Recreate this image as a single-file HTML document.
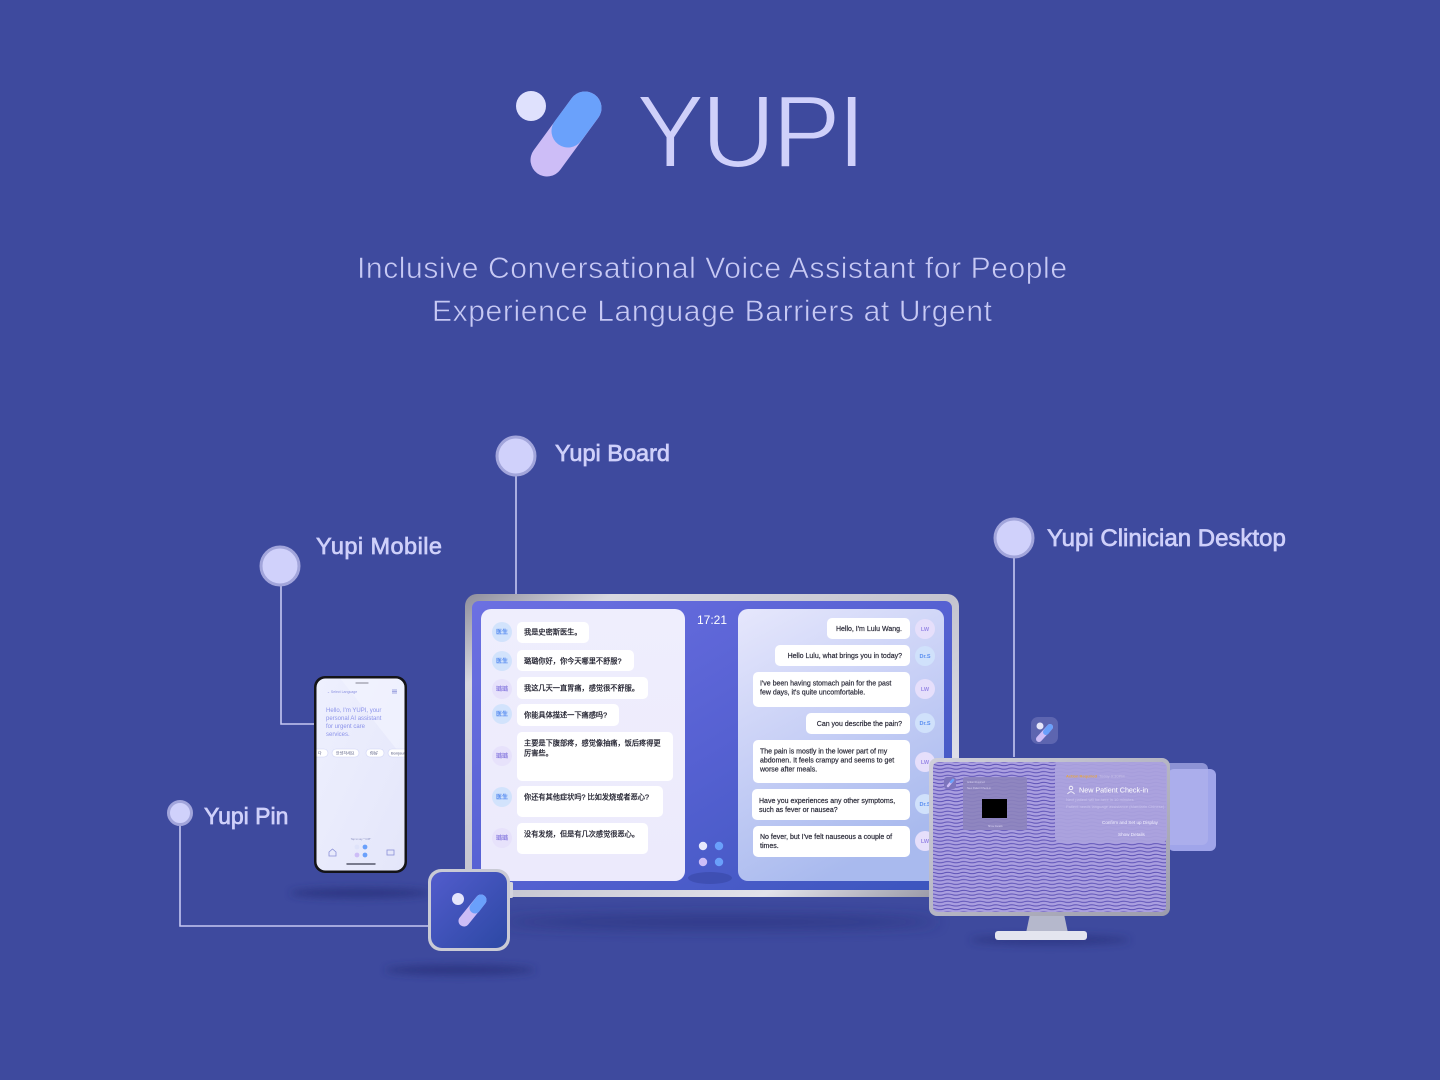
<!DOCTYPE html>
<html>
<head>
<meta charset="utf-8">
<style>
html,body{margin:0;padding:0;background:#3e4a9e;}
body{width:1440px;height:1080px;overflow:hidden;}
svg{display:block;}
</style>
</head>
<body>
<svg width="1440" height="1080" viewBox="0 0 1440 1080" xmlns="http://www.w3.org/2000/svg" font-family="'Liberation Sans','Noto Sans CJK SC',sans-serif">
<defs>
  <linearGradient id="silver" x1="0" y1="0" x2="1" y2="1">
    <stop offset="0" stop-color="#8e8e9c"/>
    <stop offset="0.15" stop-color="#d8d8e0"/>
    <stop offset="0.5" stop-color="#c4c4cf"/>
    <stop offset="0.8" stop-color="#e2e2ea"/>
    <stop offset="1" stop-color="#8f8f9d"/>
  </linearGradient>
  <linearGradient id="screen" x1="0" y1="0" x2="1" y2="1">
    <stop offset="0" stop-color="#6c70e2"/>
    <stop offset="0.5" stop-color="#5661d2"/>
    <stop offset="1" stop-color="#3b55bd"/>
  </linearGradient>
  <linearGradient id="rpanel" x1="0" y1="0" x2="0.4" y2="1">
    <stop offset="0" stop-color="#e6e7fc"/>
    <stop offset="0.5" stop-color="#c8d0f6"/>
    <stop offset="1" stop-color="#a9baee"/>
  </linearGradient>
  <linearGradient id="lpanel" x1="0" y1="0" x2="0" y2="1">
    <stop offset="0" stop-color="#efeefd"/>
    <stop offset="1" stop-color="#eceafc"/>
  </linearGradient>
  <linearGradient id="phscreen" x1="0" y1="0" x2="1" y2="1">
    <stop offset="0" stop-color="#eef0fe"/>
    <stop offset="1" stop-color="#e4e6fa"/>
  </linearGradient>
  <linearGradient id="pinbg" x1="0" y1="0" x2="1" y2="1">
    <stop offset="0" stop-color="#525ccc"/>
    <stop offset="1" stop-color="#2c48a4"/>
  </linearGradient>
  <linearGradient id="msilver" x1="0" y1="0" x2="1" y2="1">
    <stop offset="0" stop-color="#d0d0da"/>
    <stop offset="0.5" stop-color="#b6b6c4"/>
    <stop offset="1" stop-color="#9c9cac"/>
  </linearGradient>
  <pattern id="wv" width="16" height="3.6" patternUnits="userSpaceOnUse">
    <rect width="16" height="3.6" fill="#aa9fe0"/>
    <path d="M0 1.8 Q4 0.5 8 1.8 T16 1.8" fill="none" stroke="#5e52b6" stroke-width="1"/>
  </pattern>
  <filter id="blur8" x="-50%" y="-200%" width="200%" height="500%"><feGaussianBlur stdDeviation="7"/></filter>
  <filter id="blur4" x="-50%" y="-200%" width="200%" height="500%"><feGaussianBlur stdDeviation="4"/></filter>
  <clipPath id="phclip"><rect x="316.5" y="678.5" width="88" height="192" rx="9"/></clipPath>
</defs>

<rect width="1440" height="1080" fill="#3e4a9e"/>

<!-- LOGO -->
<circle cx="531" cy="106" r="15" fill="#dfe1fd"/>
<line x1="547" y1="160" x2="585" y2="108" stroke="#cdbdf7" stroke-width="33" stroke-linecap="round"/>
<line x1="585" y1="108" x2="568" y2="131" stroke="#6aa1fb" stroke-width="33" stroke-linecap="round"/>
<text x="636" y="167" font-size="103" fill="#cfd0fa" stroke="#3e4a9e" stroke-width="2" textLength="230" lengthAdjust="spacing">YUPI</text>

<!-- Subtitle -->
<text x="712" y="278" font-size="30" fill="#c7c9f4" text-anchor="middle" stroke="#3e4a9e" stroke-width="0.6" textLength="710" lengthAdjust="spacing">Inclusive Conversational Voice Assistant for People</text>
<text x="712" y="321" font-size="30" fill="#c7c9f4" text-anchor="middle" stroke="#3e4a9e" stroke-width="0.6" textLength="560" lengthAdjust="spacing">Experience Language Barriers at Urgent</text>

<!-- Connectors -->
<g stroke="#c5c8f2" stroke-width="1.6" fill="none">
  <path d="M516 476 V594"/>
  <path d="M281 586 V724 H316"/>
  <path d="M1014 558 V757"/>
  <path d="M180 825 V926 H430"/>
</g>
<g fill="#d0d1fb" stroke="#a2a5db" stroke-width="3">
  <circle cx="516" cy="456" r="19"/>
  <circle cx="280" cy="566" r="19"/>
  <circle cx="1014" cy="538" r="19"/>
  <circle cx="180" cy="813" r="11.5"/>
</g>
<g fill="#cfd0fa" stroke="#cfd0fa" stroke-width="0.7" font-size="23.5">
  <text x="555" y="461">Yupi Board</text>
  <text x="316" y="554" textLength="126" lengthAdjust="spacing">Yupi Mobile</text>
  <text x="1047" y="546" font-size="24">Yupi Clinician Desktop</text>
  <text x="204" y="824" font-size="23">Yupi Pin</text>
</g>

<!-- Shadows -->
<ellipse cx="720" cy="922" rx="220" ry="6" fill="#272f78" opacity="0.7" filter="url(#blur8)"/>
<ellipse cx="360" cy="893" rx="70" ry="5" fill="#272f78" opacity="0.7" filter="url(#blur4)"/>
<ellipse cx="460" cy="970" rx="75" ry="5" fill="#272f78" opacity="0.7" filter="url(#blur4)"/>
<ellipse cx="1050" cy="940" rx="80" ry="5" fill="#272f78" opacity="0.6" filter="url(#blur4)"/>

<!-- BOARD -->
<rect x="465" y="594" width="494" height="303" rx="12" fill="url(#silver)"/>
<rect x="472" y="601" width="480" height="289" rx="7" fill="url(#screen)"/>
<rect x="481" y="609" width="204" height="272" rx="10" fill="url(#lpanel)"/>
<rect x="738" y="609" width="206" height="272" rx="10" fill="url(#rpanel)"/>
<text x="697" y="624" font-size="12" fill="#ffffff">17:21</text>
<ellipse cx="710" cy="878" rx="22" ry="6" fill="#3c4cae" opacity="0.8"/>
<circle cx="703" cy="846" r="4.2" fill="#e6e8fc"/>
<circle cx="719" cy="846" r="4.2" fill="#6aa0fb"/>
<circle cx="703" cy="862" r="4.2" fill="#cdbdf7"/>
<circle cx="719" cy="862" r="4.2" fill="#6aa0fb"/>

<!-- left bubbles -->
<g fill="#ffffff">
  <rect x="517" y="622" width="72" height="21" rx="5"/>
  <rect x="517" y="650" width="117" height="21" rx="5"/>
  <rect x="517" y="677" width="131" height="22" rx="5"/>
  <rect x="517" y="704" width="102" height="22" rx="5"/>
  <rect x="517" y="732" width="156" height="49" rx="5"/>
  <rect x="517" y="786" width="146" height="31" rx="5"/>
  <rect x="517" y="823" width="131" height="31" rx="5"/>
</g>
<g font-size="6" font-weight="bold">
  <circle cx="502" cy="632" r="10" fill="#d2e3fc"/><text x="502" y="634" text-anchor="middle" fill="#5a8ef0">医生</text>
  <circle cx="502" cy="661" r="10" fill="#d2e3fc"/><text x="502" y="663" text-anchor="middle" fill="#5a8ef0">医生</text>
  <circle cx="502" cy="689" r="10" fill="#e7e2fb"/><text x="502" y="691" text-anchor="middle" fill="#8c7fe0">璐璐</text>
  <circle cx="502" cy="714" r="10" fill="#d2e3fc"/><text x="502" y="716" text-anchor="middle" fill="#5a8ef0">医生</text>
  <circle cx="502" cy="756" r="10" fill="#e7e2fb"/><text x="502" y="758" text-anchor="middle" fill="#8c7fe0">璐璐</text>
  <circle cx="502" cy="797" r="10" fill="#d2e3fc"/><text x="502" y="799" text-anchor="middle" fill="#5a8ef0">医生</text>
  <circle cx="502" cy="838" r="10" fill="#e7e2fb"/><text x="502" y="840" text-anchor="middle" fill="#8c7fe0">璐璐</text>
</g>
<g font-size="7.2" fill="#222230" stroke="#222230" stroke-width="0.25">
  <text x="524" y="634.5">我是史密斯医生。</text>
  <text x="524" y="663.5">璐璐你好，你今天哪里不舒服?</text>
  <text x="524" y="690.5">我这几天一直胃痛，感觉很不舒服。</text>
  <text x="524" y="717.5">你能具体描述一下痛感吗?</text>
  <text x="524" y="745.5">主要是下腹部疼，感觉像抽痛，饭后疼得更</text>
  <text x="524" y="755.5">厉害些。</text>
  <text x="524" y="799.5">你还有其他症状吗? 比如发烧或者恶心?</text>
  <text x="524" y="836.5">没有发烧，但是有几次感觉很恶心。</text>
</g>

<!-- right bubbles -->
<g fill="#ffffff">
  <rect x="827" y="618" width="83" height="21" rx="5"/>
  <rect x="775" y="645" width="135" height="21" rx="5"/>
  <rect x="753" y="672" width="157" height="35" rx="5"/>
  <rect x="806" y="713" width="104" height="21" rx="5"/>
  <rect x="753" y="740" width="157" height="43" rx="5"/>
  <rect x="752" y="789" width="158" height="31" rx="5"/>
  <rect x="753" y="826" width="157" height="31" rx="5"/>
</g>
<g font-size="5.5" font-weight="bold" text-anchor="middle">
  <circle cx="925" cy="629" r="10" fill="#e6dffb"/><text x="925" y="631" fill="#9a8ae6">LW</text>
  <circle cx="925" cy="656" r="10" fill="#d0e1fb"/><text x="925" y="658" fill="#5b8ff0">Dr.S</text>
  <circle cx="925" cy="689" r="10" fill="#e6dffb"/><text x="925" y="691" fill="#9a8ae6">LW</text>
  <circle cx="925" cy="723" r="10" fill="#d0e1fb"/><text x="925" y="725" fill="#5b8ff0">Dr.S</text>
  <circle cx="925" cy="762" r="10" fill="#e6dffb"/><text x="925" y="764" fill="#9a8ae6">LW</text>
  <circle cx="925" cy="804" r="10" fill="#d0e1fb"/><text x="925" y="806" fill="#5b8ff0">Dr.S</text>
  <circle cx="925" cy="841" r="10" fill="#e6dffb"/><text x="925" y="843" fill="#9a8ae6">LW</text>
</g>
<g font-size="7" fill="#2c2c3a" stroke="#2c2c3a" stroke-width="0.2">
  <text x="902" y="631" text-anchor="end">Hello, I'm Lulu Wang.</text>
  <text x="902" y="658" text-anchor="end">Hello Lulu, what brings you in today?</text>
  <text x="760" y="685.5">I've been having stomach pain for the past</text>
  <text x="760" y="694.5">few days, it's quite uncomfortable.</text>
  <text x="902" y="726" text-anchor="end">Can you describe the pain?</text>
  <text x="760" y="753.5">The pain is mostly in the lower part of my</text>
  <text x="760" y="762.5">abdomen. It feels crampy and seems to get</text>
  <text x="760" y="771.5">worse after meals.</text>
  <text x="759" y="803">Have you experiences any other symptoms,</text>
  <text x="759" y="812">such as fever or nausea?</text>
  <text x="760" y="839">No fever, but I've felt nauseous a couple of</text>
  <text x="760" y="848">times.</text>
</g>

<!-- PHONE -->
<rect x="314" y="676" width="93" height="197" rx="11" fill="#141418"/>
<rect x="316.5" y="678.5" width="88" height="192" rx="9" fill="url(#phscreen)"/>
<g clip-path="url(#phclip)">
  <path d="M340 678 L405 678 L405 760 Z" fill="#f4f5ff" opacity="0.6"/>
  <line x1="356" y1="683" x2="368" y2="683" stroke="#9a9aa8" stroke-width="1.2" stroke-linecap="round"/>
  <text x="327" y="693" font-size="3.5" fill="#8a90e0">⌄  Select Language</text>
  <g stroke="#8a90d8" stroke-width="0.7"><line x1="392" y1="690" x2="397" y2="690"/><line x1="392" y1="691.5" x2="397" y2="691.5"/><line x1="392" y1="693" x2="397" y2="693"/></g>
  <g font-size="6" fill="#8c93ea">
    <text x="326" y="712">Hello, I'm YUPI, your</text>
    <text x="326" y="720">personal AI assistant</text>
    <text x="326" y="728">for urgent care</text>
    <text x="326" y="736">services.</text>
  </g>
  <g fill="#ffffff" stroke="#cfd3f5" stroke-width="0.6">
    <rect x="308" y="749" width="20" height="8" rx="4"/>
    <rect x="332" y="749" width="27" height="8" rx="4"/>
    <rect x="366" y="749" width="18" height="8" rx="4"/>
    <rect x="388" y="749" width="24" height="8" rx="4"/>
  </g>
  <g font-size="4" fill="#555a80">
    <text x="318" y="754.5">다</text>
    <text x="336" y="754.5">안녕하세요</text>
    <text x="370" y="754.5">你好</text>
    <text x="391" y="754.5">Bonjour</text>
  </g>
  <text x="361" y="840" font-size="2.6" fill="#8a90c0" text-anchor="middle">Tap to say "YUPI"</text>
  <circle cx="357" cy="847" r="2.4" fill="#dfe3fa"/>
  <circle cx="365" cy="847" r="2.4" fill="#6aa0fb"/>
  <circle cx="357" cy="855" r="2.4" fill="#cdbdf7"/>
  <circle cx="365" cy="855" r="2.4" fill="#6aa0fb"/>
  <path d="M329 856 V852 L332.5 849 L336 852 V856 Z" fill="none" stroke="#8a90d8" stroke-width="0.8"/>
  <rect x="387" y="850" width="7" height="5" fill="none" stroke="#8a90d8" stroke-width="0.8"/>
  <line x1="347" y1="864" x2="375" y2="864" stroke="#55576a" stroke-width="1.4" stroke-linecap="round"/>
</g>

<!-- PIN -->
<rect x="508" y="882" width="5" height="16" rx="1.5" fill="#d4d4dc"/>
<rect x="428" y="869" width="82" height="82" rx="13" fill="#c9cad5"/>
<rect x="431" y="872" width="76" height="76" rx="11" fill="url(#pinbg)"/>
<circle cx="458" cy="899" r="6" fill="#e4e5fc"/>
<line x1="464" y1="921" x2="481" y2="900" stroke="#cdbdf7" stroke-width="11" stroke-linecap="round"/>
<line x1="481" y1="900" x2="475" y2="908" stroke="#6aa0fb" stroke-width="11" stroke-linecap="round"/>

<!-- DESKTOP -->
<rect x="1031" y="717" width="27" height="27" rx="7" fill="#5d65b0"/>
<circle cx="1040" cy="726" r="3.5" fill="#e6e6fa"/>
<line x1="1039" y1="739" x2="1050" y2="727" stroke="#cdbdf7" stroke-width="6" stroke-linecap="round"/>
<line x1="1050" y1="727" x2="1046" y2="732" stroke="#6aa0fb" stroke-width="6" stroke-linecap="round"/>

<rect x="1168" y="769" width="48" height="82" rx="6" fill="#a0a5ea"/>
<rect x="1160" y="763" width="48" height="82" rx="6" fill="#afb2ec" opacity="0.7"/>

<path d="M1030 914 L1064 914 L1068 933 L1026 933 Z" fill="#b5b8cc"/>
<rect x="995" y="931" width="92" height="9" rx="3" fill="#e4e5ef"/>
<rect x="929" y="758" width="241" height="158" rx="8" fill="url(#msilver)"/>
<rect x="933" y="762" width="233" height="150" rx="5" fill="url(#wv)"/>

<rect x="963" y="777" width="64" height="53" rx="2" fill="#8c83bd" opacity="0.9"/>
<rect x="982" y="799" width="25" height="19" fill="#000"/>
<g fill="#d8d2f0" font-size="2.5">
  <text x="967" y="783">Action Required</text>
  <text x="967" y="789">New Patient Check-in</text>
  <text x="988" y="827">Show Details</text>
</g>
<rect x="944" y="777" width="12" height="12" rx="3" fill="#7d75bd"/>
<line x1="948" y1="786" x2="953" y2="780" stroke="#cdbdf7" stroke-width="2.5" stroke-linecap="round"/>
<line x1="953" y1="780" x2="951" y2="782" stroke="#6aa0fb" stroke-width="2.5" stroke-linecap="round"/>

<rect x="1055" y="762" width="112" height="81" rx="6" fill="#aba3de" opacity="0.93"/>
<text x="1066" y="777.5" font-size="4" fill="#e8a640" font-weight="bold">Action Required</text>
<text x="1099" y="777.5" font-size="4" fill="#c6bfe8">Today 9:30PM</text>
<g fill="none" stroke="#ffffff" stroke-width="0.8">
  <circle cx="1071" cy="788" r="1.8"/>
  <path d="M1067.5 794 Q1071 789.5 1074.5 794"/>
</g>
<text x="1079" y="792.5" font-size="7.2" fill="#ffffff">New Patient Check-in</text>
<text x="1066" y="801" font-size="4" fill="#cbc4ee">Next patient will be here in 10 minutes</text>
<text x="1066" y="808" font-size="4" fill="#cbc4ee">Patient needs language assistance (Mandarin Chinese)</text>
<text x="1102" y="824" font-size="4.6" fill="#f2f0ff">Confirm and Set up Display</text>
<text x="1118" y="836" font-size="4.6" fill="#f2f0ff">Show Details</text>
</svg>
</body>
</html>
